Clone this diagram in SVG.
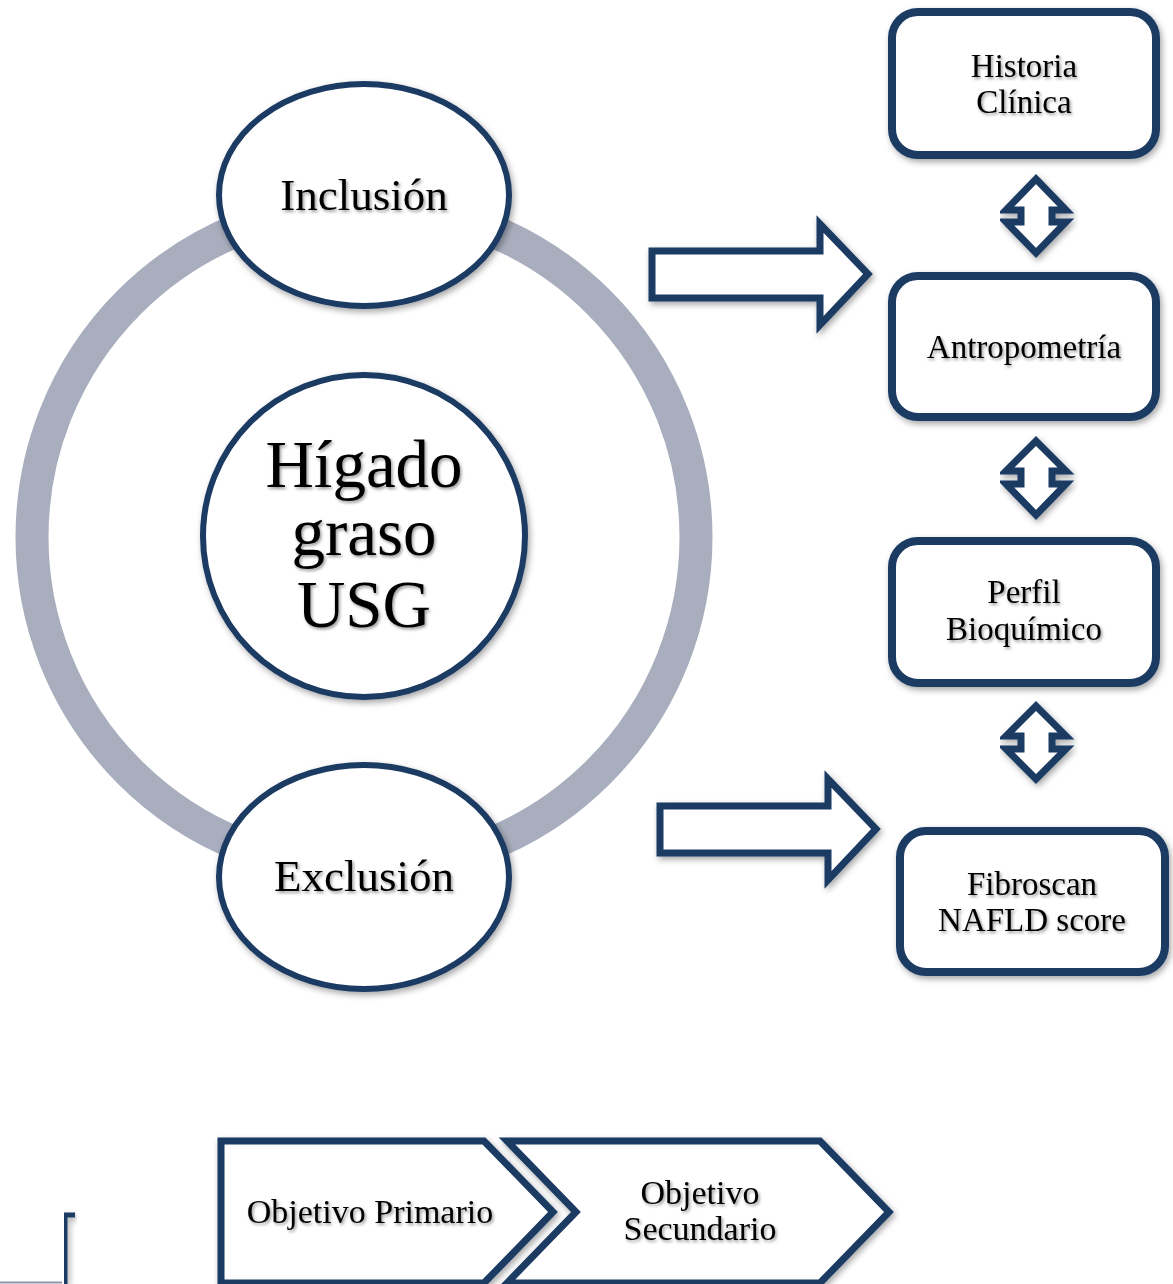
<svg xmlns="http://www.w3.org/2000/svg" width="1173" height="1284" viewBox="0 0 1173 1284">
<defs>
<filter id="sh" x="-10%" y="-10%" width="130%" height="130%">
<feDropShadow dx="2" dy="3" stdDeviation="3" flood-color="#000" flood-opacity="0.35"/>
</filter>
<filter id="tsh" x="-10%" y="-20%" width="130%" height="150%">
<feDropShadow dx="1.5" dy="2" stdDeviation="1.5" flood-color="#000" flood-opacity="0.4"/>
</filter>
</defs>
<style>
.ln{fill:#fff;stroke:#1b3a63;stroke-width:7;stroke-linejoin:miter;filter:url(#sh)}
.bx{fill:#fff;stroke:#1b3a63;stroke-width:8;filter:url(#sh)}
.el{fill:#fff;stroke:#1b3a63;stroke-width:6;filter:url(#sh)}
text{font-family:"Liberation Serif","Times New Roman",serif;fill:#000;text-anchor:middle;filter:url(#tsh)}
.t32{font-size:33px}
.t34{font-size:34px}
.t43{font-size:45px}
.t67{font-size:67px}
</style>
<rect width="1173" height="1284" fill="#fff"/>
<circle id="ring" cx="364" cy="537" r="332" fill="none" stroke="#a8aebd" stroke-width="33"/>
<g id="connectors">
<polygon class="ln" points="652,251 820,251 820,224 868,274 820,325 820,298 652,298"/>
<polygon class="ln" points="660,806 828,806 828,779 876,829 828,880 828,853 660,853"/>
<polygon class="ln" points="1036,179 1066,210 1052,210 1052,222 1066,222 1036,253 1006,222 1021,222 1021,210 1006,210"/>
<polygon class="ln" points="1036,441 1066,471 1052,471 1052,484 1066,484 1036,515 1006,484 1021,484 1021,471 1006,471"/>
<polygon class="ln" points="1036,706 1066,736 1052,736 1052,749 1066,749 1036,779 1006,749 1021,749 1021,736 1006,736"/>
</g>
<g id="inclusion">
<ellipse class="el" cx="364" cy="195" rx="145" ry="111"/>
<text class="t43" x="364" y="210">Inclusión</text>
</g>
<g id="higado">
<circle class="el" cx="364" cy="536" r="161"/>
<text class="t67" x="364" y="487">Hígado</text>
<text class="t67" x="364" y="555">graso</text>
<text class="t67" x="364" y="627">USG</text>
</g>
<g id="exclusion">
<ellipse class="el" cx="364" cy="877" rx="145" ry="112"/>
<text class="t43" x="364" y="891">Exclusión</text>
</g>
<g id="historia">
<rect class="bx" x="892" y="12" width="264" height="143" rx="26"/>
<text class="t32" x="1024" y="77">Historia</text>
<text class="t32" x="1024" y="113">Clínica</text>
</g>
<g id="antropometria">
<rect class="bx" x="892" y="276" width="264" height="141" rx="26"/>
<text class="t32" x="1024" y="358">Antropometría</text>
</g>
<g id="perfil">
<rect class="bx" x="892" y="541" width="264" height="142" rx="26"/>
<text class="t32" x="1024" y="603">Perfil</text>
<text class="t32" x="1024" y="640">Bioquímico</text>
</g>
<g id="fibroscan">
<rect class="bx" x="900" y="831" width="265" height="141" rx="26"/>
<text class="t32" x="1032" y="895">Fibroscan</text>
<text class="t32" x="1032" y="931">NAFLD score</text>
</g>
<g id="primario">
<polygon class="ln" points="221,1141 484,1141 553,1212 484,1283 221,1283"/>
<text class="t34" x="370" y="1223">Objetivo Primario</text>
</g>
<g id="secundario">
<polygon class="ln" points="507,1141 820,1141 889,1212 820,1283 507,1283 576,1212"/>
<text class="t34" x="700" y="1204">Objetivo</text>
<text class="t34" x="700" y="1240">Secundario</text>
</g>
<g id="bracket">
<line x1="0" y1="1282.5" x2="62" y2="1282.5" stroke="#8c96aa" stroke-width="2"/>
<path d="M65 1284 V1215 H75" fill="none" stroke="#1b3a63" stroke-width="5" style="filter:url(#sh)"/>
</g>
</svg>
